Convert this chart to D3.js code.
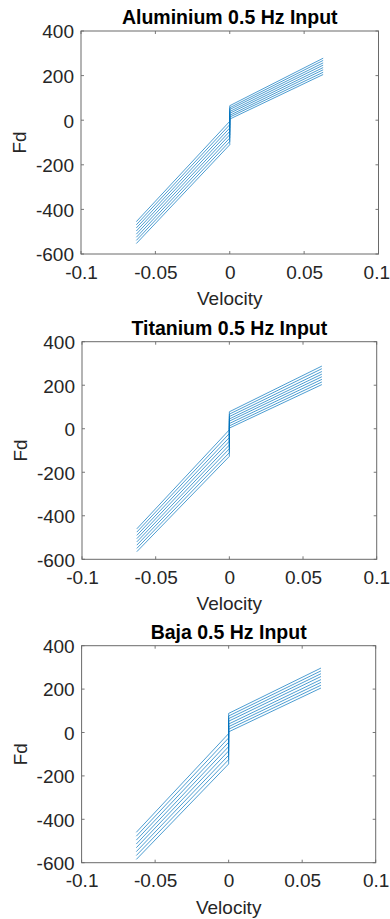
<!DOCTYPE html>
<html>
<head>
<meta charset="utf-8">
<script src="https://cdn.jsdelivr.net/npm/d3@7"></script>
<style>
  html, body { margin: 0; padding: 0; background: #fff; }
  svg { display: block; }
  text { font-family: "Liberation Sans", Arial, Helvetica, sans-serif; }
</style>
</head>
<body>
<svg id="chart" width="390" height="919"></svg>
<script>
// ---------- data ----------
const titles = ["Aluminium 0.5 Hz Input", "Titanium 0.5 Hz Input", "Baja 0.5 Hz Input"];
const xLabel = "Velocity";
const yLabel = "Fd";
const xTicks = [-0.1, -0.05, 0, 0.05, 0.1];
const yTicks = [-600, -400, -200, 0, 200, 400];
const xDomain = [-0.1, 0.1];
const yDomain = [-600, 400];
// velocity at the break points of each curve: left end, 0 (negative branch), 0 (positive branch), right end
const velocityPoints = [-0.0628, 0, 0, 0.0628];

// Fd at the break points, one row per curve
const aluminiumFd = [
  [-455,   -5, 65, 278],
  [-469,  -20, 56, 268],
  [-483,  -35, 48, 257],
  [-497,  -50, 39, 247],
  [-511,  -65, 31, 236],
  [-525,  -80, 22, 226],
  [-539,  -95, 14, 215],
  [-553, -110,  5, 205]
];
const titaniumFd = [
  [-460,   -5, 78, 288],
  [-475,  -22, 67, 276],
  [-490,  -40, 56, 263],
  [-505,  -57, 45, 251],
  [-520,  -75, 35, 239],
  [-535,  -92, 24, 227],
  [-550, -110, 13, 215],
  [-565, -127,  3, 203]
];
const bajaFd = [
  [-460,   -5, 88, 297],
  [-478,  -25, 76, 284],
  [-496,  -45, 64, 271],
  [-514,  -65, 52, 258],
  [-531,  -85, 39, 244],
  [-549, -105, 27, 231],
  [-567, -125, 15, 218],
  [-585, -145,  3, 205]
];
const panelData = [aluminiumFd, titaniumFd, bajaFd];

// ---------- layout ----------
const boxes = [
  { left: 81,   right: 378.5, top: 31,    bottom: 254 },
  { left: 82,   right: 376.7, top: 341.7, bottom: 559.3 },
  { left: 81.6, right: 375.7, top: 645.7, bottom: 862.7 }
];
const lineColor = "#0072BD";
const axisColor = "#262626";
const tickLen = 3;
const W = 390;

const svg = d3.select("#chart");

panelData.forEach((rows, p) => {
  const b = boxes[p];
  const x = d3.scaleLinear().domain(xDomain).range([b.left, b.right]);
  const y = d3.scaleLinear().domain(yDomain).range([b.bottom, b.top]);
  const g = svg.append("g");

  // curves
  const line = d3.line().x(d => x(d[0])).y(d => y(d[1]));
  g.selectAll("path.curve")
    .data(rows)
    .join("path")
    .attr("class", "curve")
    .attr("fill", "none")
    .attr("stroke", lineColor)
    .attr("stroke-opacity", 0.78)
    .attr("stroke-width", 0.9)
    .attr("d", r => line(velocityPoints.map((v, i) => [v, r[i]])));

  // axes (bottom/left with labels, top/right mirrored ticks)
  const axBottom = d3.axisBottom(x).tickValues(xTicks).tickFormat(d => String(d)).tickSize(0).tickPadding(6);
  const axLeft = d3.axisLeft(y).tickValues(yTicks).tickFormat(d => String(d)).tickSize(0).tickPadding(7);

  const gx = g.append("g").attr("transform", `translate(0,${b.bottom})`).call(axBottom);
  const gy = g.append("g").attr("transform", `translate(${b.left},0)`).call(axLeft);
  [gx, gy].forEach(a => {
    a.select(".domain").remove();
    a.selectAll("text")
      .attr("fill", axisColor)
      .style("font-size", "19px")
      .style("font-family", "'Liberation Sans', Arial, sans-serif");
  });
  gx.selectAll("text").attr("dy", null).attr("y", 24.5);
  gy.selectAll("text").attr("dy", "0.36em");

  // keep the rightmost x tick label inside the page (as in the reference)
  gx.selectAll(".tick").each(function(d) {
    const t = d3.select(this).select("text");
    const w = t.node().getComputedTextLength();
    const cx = x(d);
    if (cx + w / 2 > W - 0.5) {
      t.attr("x", (W - 0.5 - w / 2) - cx);
    }
  });

  // inward ticks on all four sides
  const tickG = g.append("g").attr("stroke", "#555").attr("stroke-width", 0.8);
  xTicks.forEach(t => {
    tickG.append("line").attr("x1", x(t)).attr("x2", x(t)).attr("y1", b.bottom).attr("y2", b.bottom - tickLen);
    tickG.append("line").attr("x1", x(t)).attr("x2", x(t)).attr("y1", b.top).attr("y2", b.top + tickLen);
  });
  yTicks.forEach(t => {
    tickG.append("line").attr("y1", y(t)).attr("y2", y(t)).attr("x1", b.left).attr("x2", b.left + tickLen);
    tickG.append("line").attr("y1", y(t)).attr("y2", y(t)).attr("x1", b.right).attr("x2", b.right - tickLen);
  });

  // box
  g.append("rect")
    .attr("x", b.left).attr("y", b.top)
    .attr("width", b.right - b.left).attr("height", b.bottom - b.top)
    .attr("fill", "none").attr("stroke", "#6a6a6a").attr("stroke-width", 1);

  // title
  g.append("text")
    .attr("x", (b.left + b.right) / 2).attr("y", b.top - 7)
    .attr("text-anchor", "middle")
    .attr("fill", "#000")
    .style("font-size", "19.5px").style("font-weight", "bold")
    .text(titles[p]);

  // x label
  g.append("text")
    .attr("x", (b.left + b.right) / 2).attr("y", b.bottom + 51)
    .attr("text-anchor", "middle")
    .attr("fill", axisColor)
    .style("font-size", "19px")
    .text(xLabel);

  // y label
  g.append("text")
    .attr("transform", `translate(${b.left - 55},${(b.top + b.bottom) / 2}) rotate(-90)`)
    .attr("text-anchor", "middle")
    .attr("fill", axisColor)
    .style("font-size", "19px")
    .text(yLabel);
});
</script>
</body>
</html>
